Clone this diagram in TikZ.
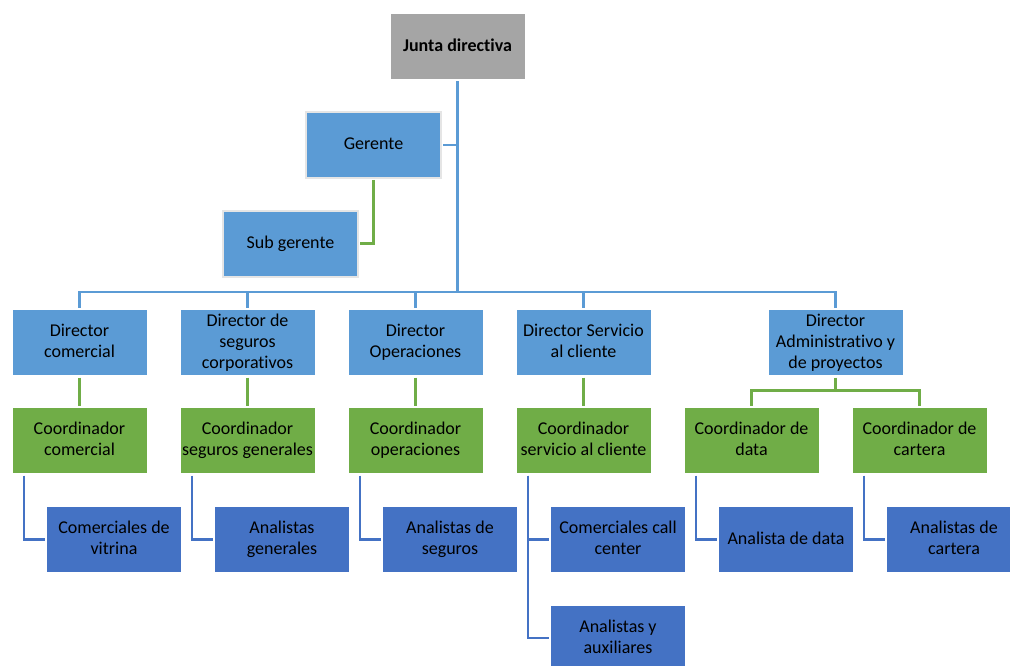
\documentclass[tikz,border=0pt]{standalone}
\usepackage{fontspec}
\setmainfont[Ligatures=NoCommon]{Carlito}
\definecolor{boardgray}{HTML}{A5A5A5}
\definecolor{lightblue}{HTML}{5B9BD5}
\definecolor{leafgreen}{HTML}{70AD47}
\definecolor{darkblue}{HTML}{4472C4}

\tikzset{
  unit/.style={minimum width=135pt, minimum height=66pt, inner sep=0pt, outer sep=2pt,
    align=center, font=\fontsize{18}{21}\selectfont, draw=white, line width=0.8pt,
    execute at begin node={\vphantom{Ag}}, execute at end node={\vphantom{Ag}}},
  board/.style={unit, fill=boardgray, font=\fontsize{18}{21}\selectfont\bfseries},
  manager/.style={unit, fill=lightblue, draw=black!10, line width=2pt},
  director/.style={unit, fill=lightblue},
  coordinator/.style={unit, fill=leafgreen},
  staff/.style={unit, fill=darkblue},
  blueline/.style={draw=lightblue, line width=2.6pt},
  greenline/.style={draw=leafgreen, line width=2.6pt},
  staffline/.style={draw=darkblue, line width=2.6pt}
}

\begin{document}
\begin{tikzpicture}[x=1pt,y=-1pt]
\useasboundingbox (0,0) rectangle (1010,666);
\begin{scope}
\clip (0,0) rectangle (1010,666);
% top levels
\node[board] (junta) at (457.5,46.5) {Junta directiva};
\node[manager] (gerente) at (373.5,145) {Gerente};
\node[manager] (subgerente) at (290.5,243.5) {Sub gerente};
% directors
\node[director] (dcom) at (79.5,342.5) {Director\\comercial};
\node[director] (dseg) at (247.5,342.5) {Director de\\seguros\\corporativos};
\node[director] (dope) at (415.5,342.5) {Director\\Operaciones};
\node[director] (dser) at (583.5,342.5) {Director Servicio\\al cliente};
\node[director] (dadm) at (835.5,342.5) {Director\\Administrativo y\\de proyectos};
% coordinators
\node[coordinator] (ccom) at (79.5,440.5) {Coordinador\\comercial};
\node[coordinator] (cseg) at (247.5,440.5) {Coordinador\\seguros generales};
\node[coordinator] (cope) at (415.5,440.5) {Coordinador\\operaciones};
\node[coordinator] (cser) at (583.5,440.5) {Coordinador\\servicio al cliente};
\node[coordinator] (cdat) at (751.5,440.5) {Coordinador de\\data};
\node[coordinator] (ccar) at (919.5,440.5) {Coordinador de\\cartera};
% staff
\node[staff] (acom) at (114,539.5) {Comerciales de\\vitrina};
\node[staff] (agen) at (282,539.5) {Analistas\\generales};
\node[staff] (aseg) at (450,539.5) {Analistas de\\seguros};
\node[staff] (acall) at (618,539.5) {Comerciales call\\center};
\node[staff] (aaux) at (618,638) {Analistas y\\auxiliares};
\node[staff] (adat) at (786,539.5) {Analista de data};
\node[staff] (acar) at (954,539.5) {Analistas de\\cartera};
\end{scope}

% connectors
\coordinate (bus) at (457.5,292);
\draw[blueline] (junta.south) -- (bus);
\draw[blueline] (gerente.east) -- (gerente.east -| junta.south);
\draw[greenline] (gerente.south) |- (subgerente.east);
\foreach \d in {dcom,dseg,dope,dser,dadm}
  \draw[blueline] (bus) -| (\d.north);
\draw[greenline] (dcom) -- (ccom);
\draw[greenline] (dseg) -- (cseg);
\draw[greenline] (dope) -- (cope);
\draw[greenline] (dser) -- (cser);
\coordinate (split) at ([yshift=-13pt]dadm.south);
\draw[greenline] (dadm.south) -- (split) -| (cdat.north);
\draw[greenline] (split) -| (ccar.north);
\draw[staffline] ([xshift=14pt]ccom.south west) |- (acom.west);
\draw[staffline] ([xshift=14pt]cseg.south west) |- (agen.west);
\draw[staffline] ([xshift=14pt]cope.south west) |- (aseg.west);
\draw[staffline] ([xshift=14pt]cser.south west) |- (aaux.west);
\draw[staffline] ([xshift=14pt]cser.south west) |- (acall.west);
\draw[staffline] ([xshift=14pt]cdat.south west) |- (adat.west);
\draw[staffline] ([xshift=14pt]ccar.south west) |- (acar.west);
\end{tikzpicture}
\end{document}
